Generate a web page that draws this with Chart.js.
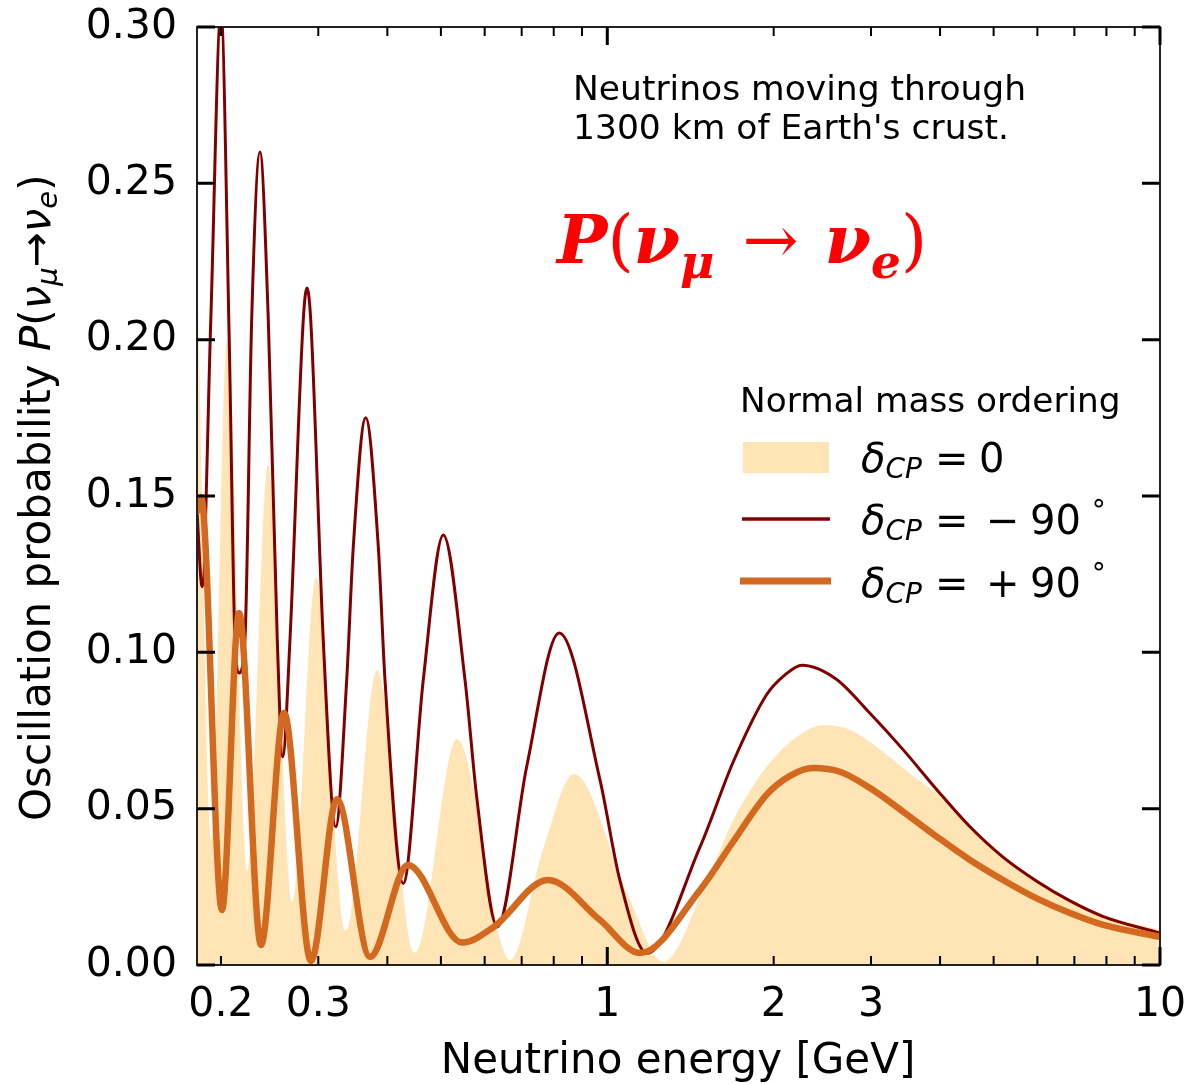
<!DOCTYPE html>
<html>
<head>
<meta charset="utf-8">
<script src="https://cdn.jsdelivr.net/npm/chart.js@4.4.0/dist/chart.umd.min.js"></script>
<style>
html, body { margin: 0; padding: 0; background: #fff; }
</style>
</head>
<body>
<canvas id="myChart" width="1192" height="1084"></canvas>
<script>
// values: energy in GeV, probability P(nu_mu -> nu_e)
var energyMinus90 = [0.1810, 0.1849, 0.1917, 0.2000, 0.2070, 0.2120, 0.2156, 0.2210, 0.2273, 0.2353, 0.2436, 0.2529, 0.2586, 0.2666, 0.2818, 0.2862, 0.2907, 0.3063, 0.3226, 0.3377, 0.3471, 0.3655, 0.3852, 0.3961, 0.4274, 0.4646, 0.5050, 0.5528, 0.5812, 0.6326, 0.7147, 0.8185, 0.9700, 1.0544, 1.1799, 1.4719, 1.6903, 1.9427, 2.0966, 2.2508, 2.5933, 2.9874, 3.4318, 3.9496, 4.5314, 5.1995, 5.9840, 6.8736, 7.8966, 10.0];
var probMinus90 = [0.145, 0.121, 0.2063, 0.305, 0.1999, 0.1039, 0.0934, 0.1039, 0.2063, 0.260, 0.2063, 0.1039, 0.0666, 0.1039, 0.2063, 0.2165, 0.2063, 0.1039, 0.0442, 0.0912, 0.1338, 0.175, 0.1338, 0.0912, 0.0261, 0.0912, 0.1375, 0.0912, 0.0528, 0.0122, 0.0634, 0.1062, 0.0592, 0.0270, 0.0038, 0.0378, 0.0650, 0.0865, 0.0928, 0.0959, 0.0915, 0.0805, 0.0688, 0.0560, 0.0442, 0.0345, 0.0268, 0.0205, 0.0155, 0.0102];

var energyPlus90 = [0.1810, 0.1841, 0.2008, 0.2156, 0.2363, 0.2601, 0.2910, 0.3243, 0.3721, 0.4359, 0.5459, 0.6213, 0.7809, 0.9700, 1.1459, 1.4719, 1.6903, 1.9427, 2.1409, 2.3564, 2.6365, 2.9874, 3.4318, 3.9496, 4.5314, 5.1995, 5.9840, 6.8736, 7.8966, 10.0];
var probPlus90 = [0.145, 0.1497, 0.0176, 0.1126, 0.0064, 0.0806, 0.0013, 0.0530, 0.0026, 0.0320, 0.0072, 0.012, 0.0272, 0.0144, 0.0038, 0.0240, 0.0395, 0.0545, 0.0605, 0.0630, 0.0618, 0.0566, 0.0490, 0.0410, 0.0336, 0.0272, 0.0213, 0.0166, 0.0128, 0.0090];

var energyZero = [0.1810, 0.1919, 0.2051, 0.2238, 0.2433, 0.2700, 0.2972, 0.3367, 0.3831, 0.4488, 0.5346, 0.6669, 0.7648, 0.8704, 1.0855, 1.2613, 1.5343, 1.6903, 1.9427, 2.1860, 2.4567, 2.7032, 2.9874, 3.5540, 3.9496, 4.5314, 5.1995, 5.9840, 6.8736, 7.8966, 10.0];
var probZero = [0.226, 0.040, 0.200, 0.030, 0.160, 0.020, 0.124, 0.011, 0.0943, 0.004, 0.0723, 0.0016, 0.0368, 0.0611, 0.023, 0.001, 0.0294, 0.0464, 0.0634, 0.0725, 0.0767, 0.0757, 0.0713, 0.0608, 0.0548, 0.0448, 0.0352, 0.0274, 0.0211, 0.0161, 0.0112];

var xMajor = [1, 10];
var xMinor = [0.2, 0.3, 0.4, 0.5, 0.6, 0.7, 0.8, 0.9, 2, 3, 4, 5, 6, 7, 8, 9];
var xLabels = [0.2, 0.3, 1, 2, 3, 10];
var yTicks = [0, 0.05, 0.10, 0.15, 0.20, 0.25, 0.30];

function pairs(xs, ys) {
    return xs.map(function (x, i) { return { x: x, y: ys[i] }; });
}

var SANS = "'DejaVu Sans'";
var SERIF = "'DejaVu Serif'";

// draws a row of text pieces one after another
function drawRuns(ctx, x, y, runs) {
    runs.forEach(function (r) {
        if (r.gap) { x += r.gap; return; }
        ctx.font = r.font;
        ctx.fillText(r.t, x, y + (r.dy || 0));
        x += ctx.measureText(r.t).width;
    });
    return x;
}

var decorations = {
    id: 'decorations',
    afterDraw: function (chart) {
        var ctx = chart.ctx;
        var a = chart.chartArea;
        var xs = chart.scales.x, ys = chart.scales.y;
        ctx.save();

        // frame
        ctx.strokeStyle = '#222';
        ctx.lineWidth = 2;
        ctx.strokeRect(a.left, a.top, a.right - a.left, a.bottom - a.top);

        // ticks, pointing inward on all four sides
        ctx.strokeStyle = '#000';
        ctx.lineCap = 'butt';
        ctx.lineWidth = 3;
        yTicks.forEach(function (v) {
            var py = ys.getPixelForValue(v);
            ctx.beginPath();
            ctx.moveTo(a.left, py); ctx.lineTo(a.left + 18, py);
            ctx.moveTo(a.right, py); ctx.lineTo(a.right - 18, py);
            ctx.stroke();
        });
        xMajor.forEach(function (v) {
            var px = xs.getPixelForValue(v);
            ctx.beginPath();
            ctx.moveTo(px, a.bottom); ctx.lineTo(px, a.bottom - 18);
            ctx.moveTo(px, a.top); ctx.lineTo(px, a.top + 18);
            ctx.stroke();
        });
        ctx.lineWidth = 2;
        xMinor.forEach(function (v) {
            var px = xs.getPixelForValue(v);
            ctx.beginPath();
            ctx.moveTo(px, a.bottom); ctx.lineTo(px, a.bottom - 9);
            ctx.moveTo(px, a.top); ctx.lineTo(px, a.top + 9);
            ctx.stroke();
        });

        ctx.fillStyle = '#000';
        ctx.textBaseline = 'alphabetic';
        ctx.textAlign = 'left';

        // x axis title
        ctx.font = '42px ' + SANS;
        ctx.textAlign = 'center';
        ctx.fillText('Neutrino energy [GeV]', 678, 1073);
        ctx.textAlign = 'left';

        // y axis title
        ctx.save();
        ctx.translate(50, 821);
        ctx.rotate(-Math.PI / 2);
        drawRuns(ctx, 0, 0, [
            { t: 'Oscillation probability ', font: '42px ' + SANS },
            { t: 'P', font: 'italic 42px ' + SANS },
            { t: '(', font: '42px ' + SANS },
            { t: 'ν', font: 'italic 42px ' + SANS },
            { t: 'μ', font: 'italic 29px ' + SANS, dy: 7 },
            { t: '→', font: '42px ' + SANS },
            { t: 'ν', font: 'italic 42px ' + SANS },
            { t: 'e', font: 'italic 29px ' + SANS, dy: 7 },
            { t: ')', font: '42px ' + SANS }
        ]);
        ctx.restore();

        // annotation
        ctx.font = '34.5px ' + SANS;
        ctx.fillText('Neutrinos moving through', 573, 100);
        ctx.fillText("1300 km of Earth's crust.", 573, 139);

        // red formula
        ctx.fillStyle = '#ff0000';
        drawRuns(ctx, 557, 263, [
            { t: 'P', font: 'italic bold 67px ' + SERIF },
            { t: '(', font: '67px ' + SERIF },
            { t: 'ν', font: 'italic bold 67px ' + SERIF },
            { t: 'μ', font: 'italic bold 47px ' + SERIF, dy: 15 },
            { gap: 28 },
            { t: '→', font: '67px ' + SERIF },
            { gap: 26 },
            { t: 'ν', font: 'italic bold 67px ' + SERIF },
            { t: 'e', font: 'italic bold 47px ' + SERIF, dy: 15 },
            { t: ')', font: '67px ' + SERIF }
        ]);

        // legend
        ctx.fillStyle = '#000';
        ctx.font = '34.3px ' + SANS;
        ctx.fillText('Normal mass ordering', 740, 412);

        ctx.fillStyle = '#ffe4b5';
        ctx.fillRect(743, 442, 86, 31);
        ctx.strokeStyle = '#800000';
        ctx.lineWidth = 3.5;
        ctx.beginPath(); ctx.moveTo(742, 519); ctx.lineTo(830, 519); ctx.stroke();
        ctx.strokeStyle = '#d2691e';
        ctx.lineWidth = 7;
        ctx.beginPath(); ctx.moveTo(740, 581); ctx.lineTo(831, 581); ctx.stroke();

        ctx.fillStyle = '#000';
        var rows = [[472, null, '0'], [534, '−', '90'], [597, '+', '90']];
        rows.forEach(function (r) {
            var base = r[0];
            drawRuns(ctx, 861, base, [
                { t: 'δ', font: 'italic 40px ' + SANS },
                { t: 'CP', font: 'italic 28px ' + SANS, dy: 6 }
            ]);
            ctx.font = '40px ' + SANS;
            ctx.fillText('=', 935, base);
            if (r[1] === null) {
                ctx.fillText(r[2], 979, base);
            } else {
                ctx.fillText(r[1], 986, base);
                ctx.fillText(r[2], 1030, base);
                ctx.font = '28px ' + SANS;
                ctx.fillText('∘', 1090, base - 22);
            }
        });

        ctx.restore();
    }
};

var ctx = document.getElementById('myChart').getContext('2d');
var chart = new Chart(ctx, {
    type: 'line',
    data: {
        datasets: [{
            label: 'δCP = +90°',
            data: pairs(energyPlus90, probPlus90),
            borderColor: '#d2691e',
            borderWidth: 6.5,
            fill: false,
            order: 1
        }, {
            label: 'δCP = −90°',
            data: pairs(energyMinus90, probMinus90),
            borderColor: '#800000',
            borderWidth: 3,
            fill: false,
            order: 2
        }, {
            label: 'δCP = 0',
            data: pairs(energyZero, probZero),
            borderColor: 'rgba(0,0,0,0)',
            borderWidth: 0,
            backgroundColor: '#ffe4b5',
            fill: 'origin',
            order: 3
        }]
    },
    options: {
        responsive: false,
        animation: false,
        devicePixelRatio: 1,
        layout: { padding: { top: 27, right: 32, left: 0, bottom: 0 } },
        elements: {
            point: { radius: 0 },
            line: { cubicInterpolationMode: 'monotone', borderCapStyle: 'round', borderJoinStyle: 'round' }
        },
        datasets: { line: { clip: 0 } },
        plugins: {
            legend: { display: false },
            tooltip: { enabled: false }
        },
        scales: {
            x: {
                type: 'logarithmic',
                min: 0.181,
                max: 10,
                afterBuildTicks: function (scale) {
                    scale.ticks = xMinor.concat(xMajor).sort(function (p, q) { return p - q; })
                        .map(function (v) { return { value: v }; });
                },
                afterFit: function (scale) {
                    scale.height = 119;
                    scale.paddingLeft = 0;
                    scale.paddingRight = 0;
                },
                grid: { display: false, drawTicks: false },
                border: { display: false },
                ticks: {
                    autoSkip: false,
                    maxRotation: 0,
                    padding: 16,
                    color: '#000',
                    font: { family: 'DejaVu Sans', size: 41 },
                    callback: function (v) { return xLabels.indexOf(v) >= 0 ? String(v) : ''; }
                }
            },
            y: {
                min: 0,
                max: 0.3,
                afterFit: function (scale) {
                    scale.width = 197;
                    scale.paddingTop = 0;
                    scale.paddingBottom = 0;
                },
                grid: { display: false, drawTicks: false },
                border: { display: false },
                ticks: {
                    stepSize: 0.05,
                    padding: 20,
                    color: '#000',
                    font: { family: 'DejaVu Sans', size: 41 },
                    callback: function (v) { return v.toFixed(2); }
                }
            }
        }
    },
    plugins: [decorations]
});
</script>
</body>
</html>
